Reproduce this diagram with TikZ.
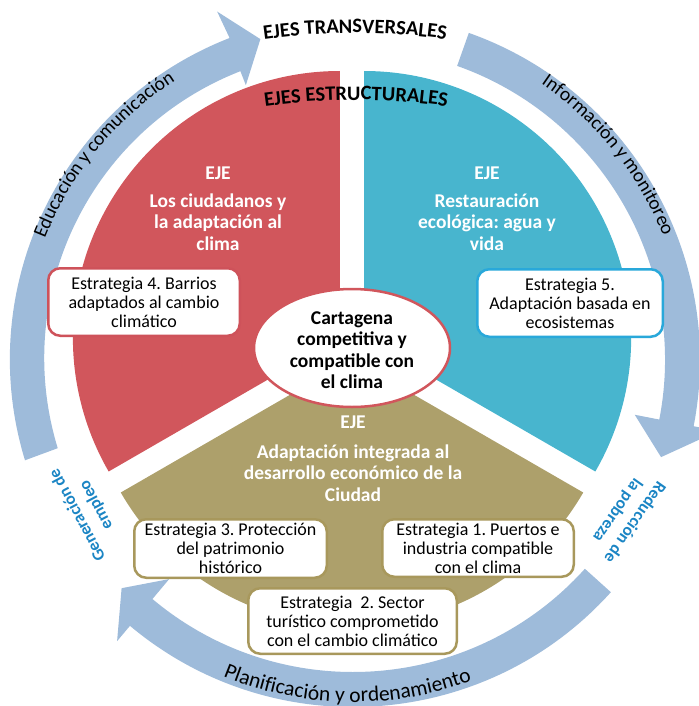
\documentclass[tikz,border=0pt]{standalone}
\usepackage{fontspec}
\setmainfont{Carlito}
\usetikzlibrary{decorations.text,shapes.geometric}
\definecolor{ringc}{RGB}{158,187,218}
\definecolor{redc}{RGB}{209,86,92}
\definecolor{cyanc}{RGB}{72,181,206}
\definecolor{olivec}{RGB}{173,160,107}
\definecolor{redb}{RGB}{206,82,90}
\definecolor{cyanb}{RGB}{41,168,218}
\definecolor{oliveb}{RGB}{168,152,92}
\definecolor{bluet}{RGB}{27,133,196}
\newcommand\bxfont{\fontsize{18}{19}\selectfont}
\newcommand\axfont{\bfseries\fontsize{19.5}{21.5}\selectfont}
\newcommand\arcfnt{\fontsize{19.5}{24}\selectfont}
\newcommand\arcbig{\fontsize{21.5}{24}\selectfont}
\newcommand\ttlfnt{\bfseries\fontsize{20.5}{24}\selectfont}
\newcommand\gapfnt{\bfseries\fontsize{17}{21}\selectfont}
\frenchspacing
\tikzset{
  stratbox/.style={draw, line width=2.5pt, rounded corners=12pt, fill=white, align=center, font=\bxfont, inner sep=0pt, text=black},
  axtext/.style={align=center, font=\axfont, text=white},
  gaptext/.style={align=center, font=\gapfnt, text=bluet},
  ringarrow/.style={fill=ringc},
  arctext/.style={decorate, decoration={text along path, text align=center, text={#1}}},
}
\begin{document}
\begin{tikzpicture}[x=1pt,y=1pt]
\useasboundingbox (0,0) rectangle (698,-706);
% exploded pie
\fill[redc] (339.9,-338) -- ++(90:267) arc[start angle=90,end angle=210,radius=267] -- cycle;
\fill[cyanc] (364.1,-338) -- ++(-30:267) arc[start angle=-30,end angle=90,radius=267] -- cycle;
\fill[olivec] (352,-359) -- ++(210:267) arc[start angle=210,end angle=330,radius=267] -- cycle;
% ring arrows
\begin{scope}[shift={(353,-360)}]
\fill[ringarrow] (197:343) arc[start angle=197,end angle=111.3,radius=345] -- (111.3:374) -- (106.1:334) -- (111.3:295) -- (111.3:310) arc[start angle=111.3,end angle=197,radius=308] -- cycle;
\fill[ringarrow] (70.5:347) arc[start angle=70.5,end angle=-11,radius=347] -- (-11:372) -- (-17.5:323) -- (-11:287) -- (-11:312) arc[start angle=-11,end angle=70.5,radius=312] -- cycle;
\fill[ringarrow] (-42:347) arc[start angle=-42,end angle=-130,radius=347] -- (-130:367) -- (-135.4:325) -- (-130:286) -- (-130:312) arc[start angle=-130,end angle=-42,radius=312] -- cycle;
\path[arctext={|\arcfnt|Educación y comunicación}] (178:331) arc[start angle=178,end angle=103,radius=331];
\path[arctext={|\arcfnt|Información y monitoreo}] (76:334) arc[start angle=76,end angle=1.5,radius=334];
\path[arctext={|\arcbig|Planificación y ordenamiento}] (232:342) arc[start angle=232,end angle=306,radius=342];
\end{scope}
% titles
\path[arctext={|\ttlfnt|EJES TRANSVERSALES}] (355,-683) ++(102:650) arc[start angle=102,end angle=78,radius=650];
\path[arctext={|\ttlfnt|EJES ESTRUCTURALES}] (356,-750) ++(102:650) arc[start angle=102,end angle=78,radius=650];
% sector texts
\node[axtext] (ejeR) at (218,-173) {EJE};
\node[axtext] (txR) at (218,-222) {Los ciudadanos y\\la adaptación al\\clima};
\node[axtext] (ejeC) at (487,-173) {EJE};
\node[axtext] (txC) at (487,-222) {Restauración\\ecológica: agua y\\vida};
\node[axtext] (ejeO) at (353,-422) {EJE};
\node[axtext] (txO) at (353,-473) {Adaptación integrada al\\desarrollo económico de la\\Ciudad};
% gap texts
\node[gaptext, rotate=118] (gen) at (87,-510) {Generación de\\empleo};
\node[gaptext, rotate=235] (pob) at (626,-516) {Reducción de\\la pobreza};
% strategy boxes
\node[stratbox, draw=redb, minimum width=191.5pt, minimum height=67.5pt] (e4) at (144,-302) {Estrategia 4. Barrios\\adaptados al cambio\\climático};
\node[stratbox, draw=cyanb, minimum width=185.5pt, minimum height=67.5pt] (e5) at (570,-303) {Estrategia 5.\\Adaptación basada en\\ecosistemas};
\node[stratbox, draw=oliveb, minimum width=192.5pt, minimum height=58.5pt] (e3) at (230.5,-548.5) {Estrategia 3. Protección\\del patrimonio\\histórico};
\node[stratbox, draw=oliveb, minimum width=191.5pt, minimum height=57.5pt] (e1) at (478,-548) {Estrategia 1. Puertos e\\industria compatible\\con el clima};
\node[stratbox, draw=oliveb, minimum width=208.5pt, minimum height=65.5pt] (e2) at (352.5,-621) {Estrategia~~2. Sector\\turístico comprometido\\con el cambio climático};
% centre
\node[ellipse, draw=redc, line width=2.5pt, fill=white, minimum width=196pt, minimum height=118pt, inner sep=0pt] (ctr) at (352,-348) {};
\node[align=center, font=\axfont, text=black] (ctrtx) at (352,-350) {Cartagena\\competitiva y\\compatible con\\el clima};
\end{tikzpicture}
\end{document}
